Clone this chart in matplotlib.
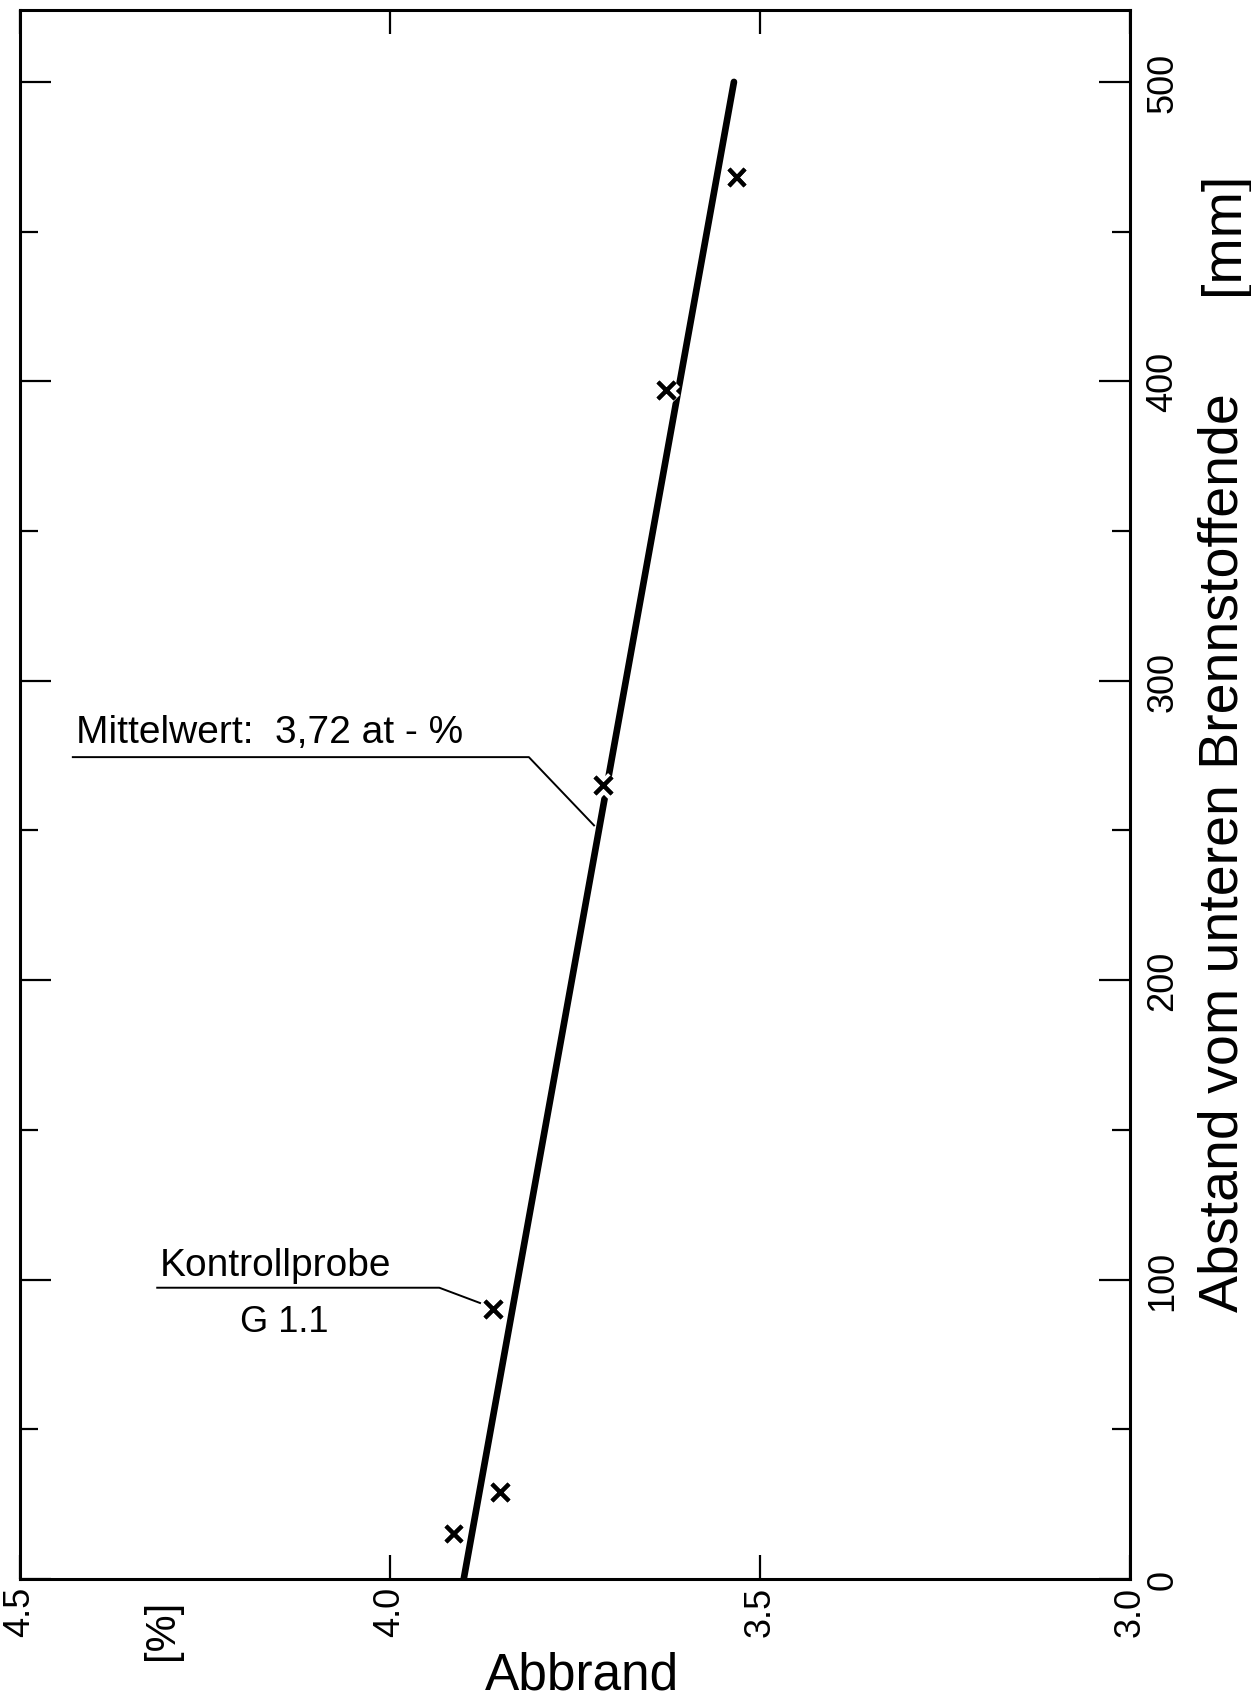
import numpy as np
import matplotlib
matplotlib.use("Agg")
import matplotlib.pyplot as plt
import matplotlib.patheffects as pe

plt.rcParams['font.family'] = ['Liberation Sans', 'DejaVu Sans']

# Data
line_abbrand = [3.90, 3.535]
line_abstand = [0, 500]
pts_abbrand = [3.913, 3.850, 3.860, 3.711, 3.626, 3.531]
pts_abstand = [15, 29, 90, 265, 397, 468]

x_ticks = [4.5, 4.0, 3.5, 3.0]
x_ticklabels = ["4.5", "4.0", "3.5", "3.0"]
y_major = [0, 100, 200, 300, 400, 500]
y_minor = [50, 150, 250, 350, 450]

fig = plt.figure(figsize=(12.51, 16.99), dpi=100)
ax = fig.add_axes([0.0156, 0.0700, 0.8877, 0.9235])

ax.plot(line_abbrand, line_abstand, color='black', lw=4.8, solid_capstyle='round', zorder=2)
ax.plot(pts_abbrand, pts_abstand, ls='none', marker='x', ms=12, mew=3, color='black', zorder=3,
        path_effects=[pe.withStroke(linewidth=9, foreground='white'), pe.Normal()])

ax.set_xlim(4.5, 3.0)
ax.set_ylim(0, 524)

for s in ax.spines.values():
    s.set_linewidth(2.2)

ax.set_xticks(x_ticks)
ax.set_xticklabels(x_ticklabels, rotation=90, fontsize=26)
ax.tick_params(axis='x', direction='in', length=17, width=1.6, top=True, bottom=True,
               labeltop=False, labelbottom=True, pad=5)

ax.set_yticks(y_major)
ax.set_yticks(y_minor, minor=True)
ax.set_yticklabels([str(v) for v in y_major], rotation=90, va='center', fontsize=26)
ax.tick_params(axis='y', which='major', direction='in', length=22, width=1.6, left=True, right=True,
               labelleft=False, labelright=True, pad=11)
ax.tick_params(axis='y', which='minor', direction='in', length=13, width=1.6, left=True, right=True)

# Axis labels
fig.text(582/1251, 1 - 1690/1699, "Abbrand", fontsize=37, ha='center', va='baseline')
fig.text(162/1251, 1 - 1630/1699, "[%]", fontsize=30, ha='center', va='center', rotation=90)
lab = fig.text(1238/1251, 1 - 853/1699, "Abstand vom unteren Brennstoffende", fontsize=40,
               ha='center', va='baseline', rotation=90, rotation_mode='anchor')
mm = fig.text(1238/1251, 1 - 233/1699, "[mm]", fontsize=40, ha='center', va='baseline',
              rotation=90, rotation_mode='anchor')

# Annotations
ax.text(4.424, 277, "Mittelwert:  3,72 at - %", fontsize=28, ha='left', va='bottom')
ax.plot([4.428, 3.812, 3.724], [274.5, 274.5, 251.7], color='black', lw=1.4)

ax.text(4.31, 99, "Kontrollprobe", fontsize=28, ha='left', va='bottom')
ax.plot([4.314, 3.933, 3.878], [97.3, 97.3, 92.2], color='black', lw=1.4)
ax.text(4.143, 86, "G 1.1", fontsize=26, ha='center', va='center')

# fit the long right label to the reference length
fig.canvas.draw()
r = fig.canvas.get_renderer()
h = lab.get_window_extent(renderer=r).height
fs = min(40, 40 * 937 / h)
lab.set_fontsize(fs)
mm.set_fontsize(fs)

fig.savefig("out.png", dpi=100)
